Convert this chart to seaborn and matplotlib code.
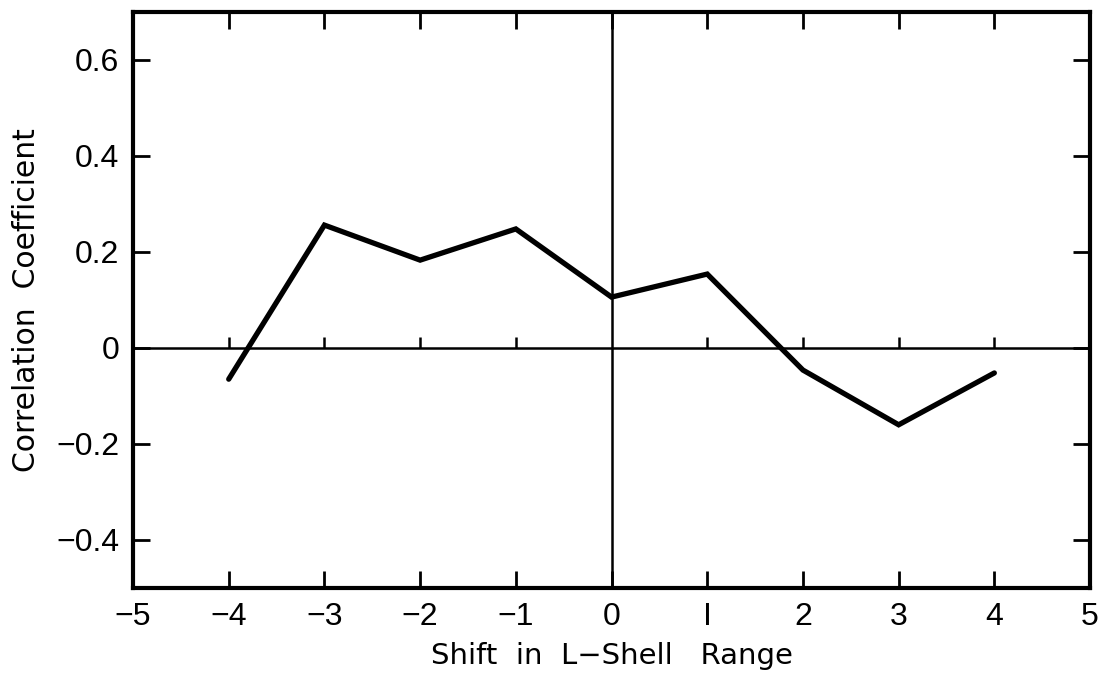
import matplotlib
matplotlib.use("Agg")
import matplotlib.pyplot as plt
import seaborn as sns
import pandas as pd

# Correlation coefficient vs. shift in L-shell range
shift = [-4, -3, -2, -1, 0, 1, 2, 3, 4]
corr = [-0.065, 0.256, 0.183, 0.248, 0.106, 0.154, -0.046, -0.160, -0.052]

x_ticks = [-5, -4, -3, -2, -1, 0, 1, 2, 3, 4, 5]
x_ticklabels = ["\u22125", "\u22124", "\u22123", "\u22122", "\u22121", "0", "I", "2", "3", "4", "5"]
y_ticks = [-0.4, -0.2, 0, 0.2, 0.4, 0.6]
y_ticklabels = ["\u22120.4", "\u22120.2", "0", "0.2", "0.4", "0.6"]

sns.set_theme(style="ticks")
plt.rcParams["font.family"] = ["Liberation Sans", "DejaVu Sans"]

df = pd.DataFrame({"shift": shift, "corr": corr})

fig = plt.figure(figsize=(11.14, 6.8), dpi=100)
ax = fig.add_axes([0.1194, 0.1353, 0.8591, 0.8471])

# reference axes through the origin
ax.axhline(0, color="black", lw=1.8, zorder=1)
ax.axvline(0, color="black", lw=1.8, zorder=1)
# small ticks along the zero line
ax.vlines([v for v in x_ticks if v not in (-5, 0, 5)], 0, 0.022, color="black", lw=1.8, zorder=1)

sns.lineplot(data=df, x="shift", y="corr", ax=ax, color="black", lw=3.8,
             solid_capstyle="round", solid_joinstyle="miter", zorder=3)

ax.set_xlim(-5, 5)
ax.set_ylim(-0.5, 0.7)
ax.set_xticks(x_ticks)
ax.set_xticklabels(x_ticklabels)
ax.set_yticks(y_ticks)
ax.set_yticklabels(y_ticklabels)

for s in ax.spines.values():
    s.set_linewidth(3)
    s.set_color("black")

ax.tick_params(axis="both", direction="in", length=12, width=2, labelsize=23,
               color="black", labelcolor="black",
               top=True, right=True, pad=10)

ax.set_xlabel("Shift  in  L\u2212Shell   Range", fontsize=21, family="DejaVu Sans",
              color="black", labelpad=7)
ax.set_ylabel("Correlation  Coefficient", fontsize=21.5, family="DejaVu Sans",
              color="black", labelpad=11)

fig.savefig("out.png", dpi=100)
